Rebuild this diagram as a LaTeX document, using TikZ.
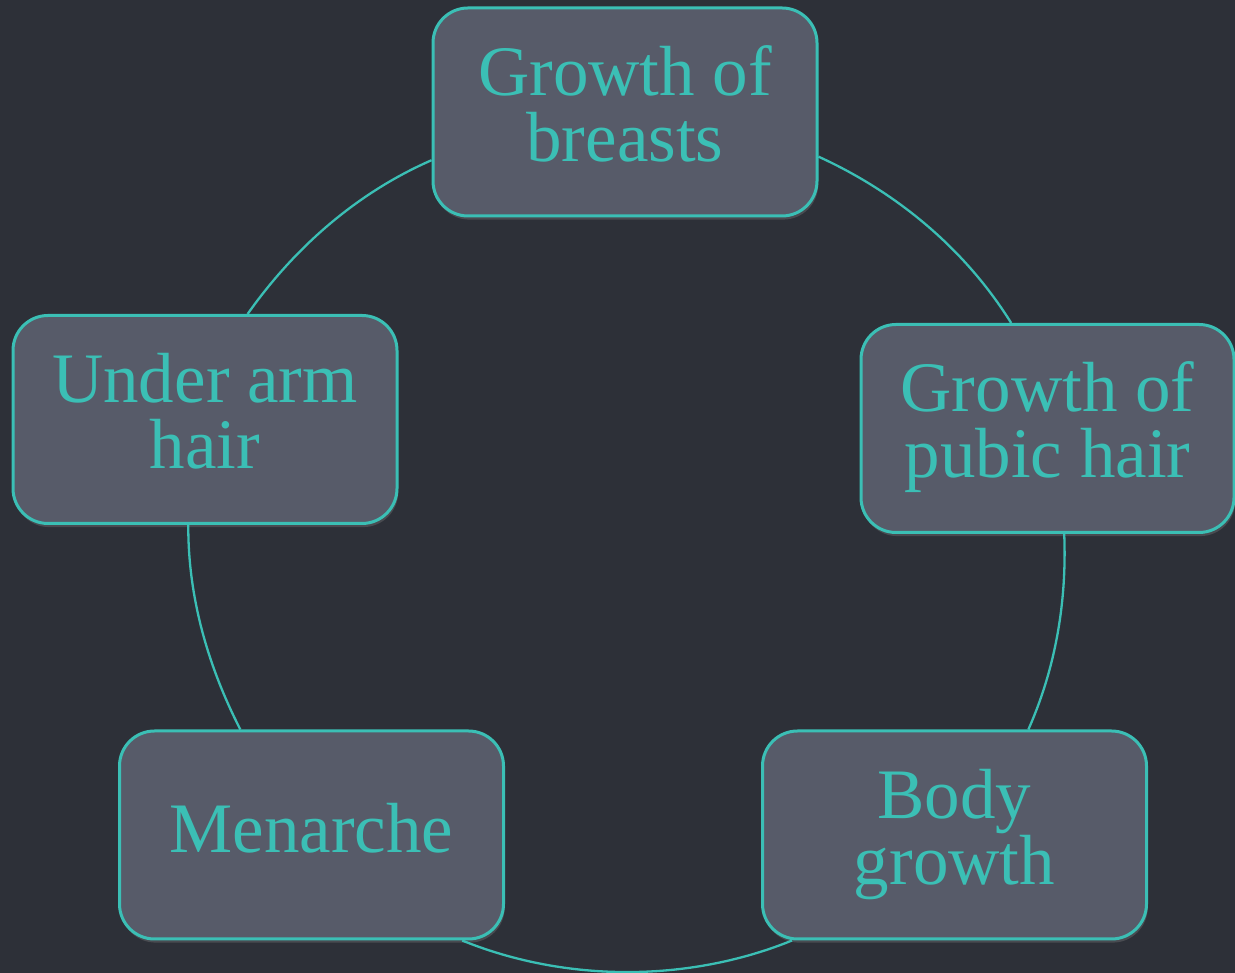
\documentclass[tikz,border=0pt]{standalone}
\usepackage{fontspec}
\setmainfont{Liberation Serif}
\usepackage{xcolor}
\usepackage{tikz}
\usetikzlibrary{shadows}
\definecolor{slate}{HTML}{2D3038}
\definecolor{boxgrey}{HTML}{575B69}
\definecolor{teal}{HTML}{3BBFB5}
\newcommand\toprule{\rule{0pt}{26pt}}
\newcommand\botrule{\rule[-8.5pt]{0pt}{8.5pt}}

\begin{document}
\begin{tikzpicture}[x=0.5pt,y=0.5pt,font=\fontsize{35.5}{33}\selectfont,
    stage/.style={draw=teal,fill=boxgrey,line width=1.5pt,rounded corners=17.5pt,text=teal,align=center,
      minimum width=192pt,minimum height=104pt,inner sep=0pt,
      execute at begin node=\toprule,execute at end node=\botrule,
      drop shadow={opacity=.35,shadow xshift=.6pt,shadow yshift=-1.8pt}},
    ring/.style={teal,line width=1.15pt,looseness=.87}]
    \fill[slate](0,0) rectangle(1235,973); \useasboundingbox (0,0) rectangle(1235,973);
    \node[stage] (breasts) at (625,861){Growth of\\breasts};
    \node[stage,minimum width=186.5pt] (pubic) at (1047.5,544.5){Growth of\\pubic hair};
    \node[stage] (body) at (954.5,138){Body\\growth};
    \node[stage] (menarche) at (311.5,138){Menarche};
    \node[stage] (underarm) at (205,553.5){Under arm\\hair};
    \draw[ring](breasts.347.8) to[out=-24.5,in=121.9] (pubic.109.7);
    \draw[ring](pubic.279.5) to[out=-87.75,in=66.15] (body.55.8);
    \draw[ring](body.213.4) to[out=202.1,in=337.9] (menarche.325.8);
    \draw[ring](menarche.124.6) to[out=117.1,in=269.7] (underarm.261.4);
    \draw[ring](underarm.68.5) to[out=54.8,in=203.6] (breasts.194.9);
  \end{tikzpicture}
\end{document}
